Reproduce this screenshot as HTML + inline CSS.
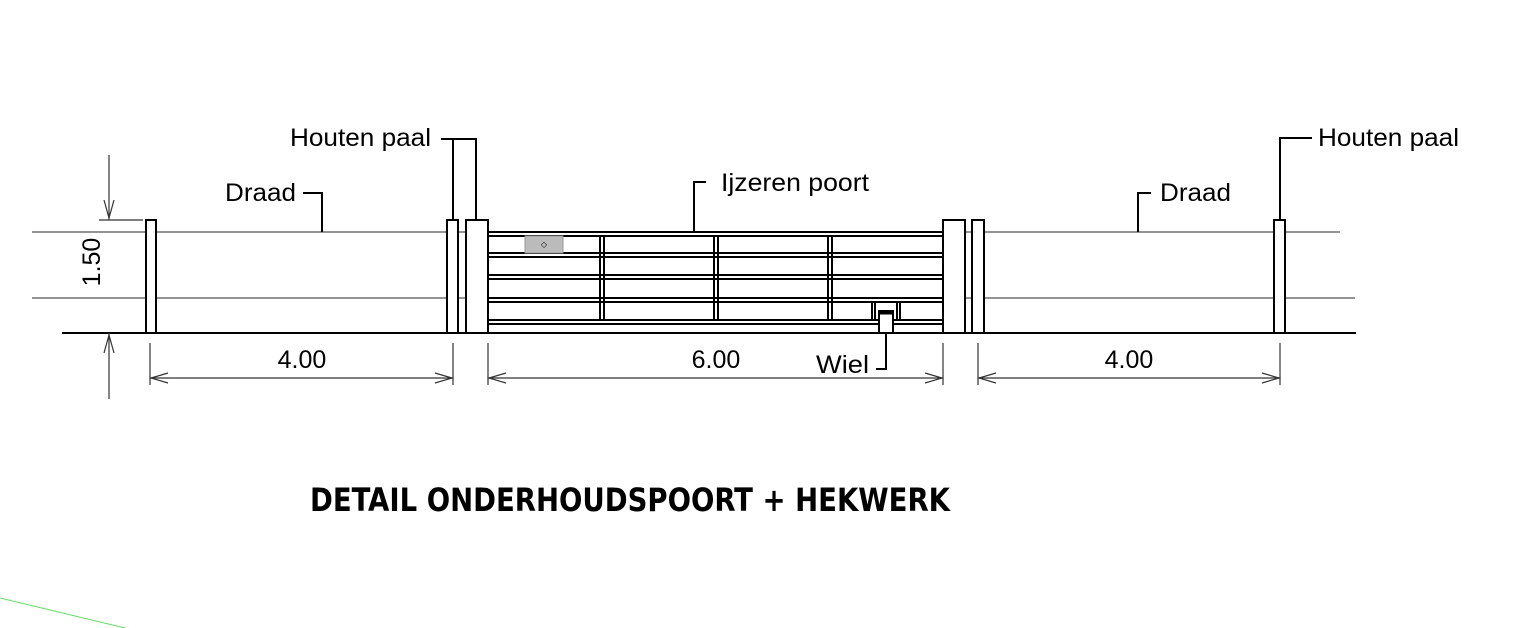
<!DOCTYPE html><html><head><style>body{margin:0;background:#fff}svg{display:block}text{font-family:"Liberation Sans",sans-serif;fill:#000}</style></head><body>
<svg width="1520" height="628" viewBox="0 0 1520 628" xmlns="http://www.w3.org/2000/svg">
<g stroke="#555" stroke-width="1.3" fill="none">
<line x1="32" y1="232" x2="1340" y2="232"/><line x1="32" y1="298" x2="1355" y2="298"/>
</g>
<line x1="62" y1="333" x2="1356" y2="333" stroke="#000" stroke-width="2"/>
<g stroke="#000" stroke-width="2" fill="none">
<line x1="488" y1="232" x2="943" y2="232"/><line x1="488" y1="236" x2="943" y2="236"/>
<line x1="488" y1="253" x2="943" y2="253"/><line x1="488" y1="257" x2="943" y2="257"/>
<line x1="488" y1="275" x2="943" y2="275"/><line x1="488" y1="279" x2="943" y2="279"/>
<line x1="488" y1="298" x2="943" y2="298"/><line x1="488" y1="302" x2="943" y2="302"/>
<line x1="488" y1="320" x2="943" y2="320"/><line x1="488" y1="324" x2="943" y2="324"/>
<line x1="600" y1="236" x2="600" y2="320"/><line x1="604" y1="236" x2="604" y2="320"/>
<line x1="714" y1="236" x2="714" y2="320"/><line x1="718" y1="236" x2="718" y2="320"/>
<line x1="828" y1="236" x2="828" y2="320"/><line x1="832" y1="236" x2="832" y2="320"/>
<line x1="872" y1="302" x2="872" y2="320"/><line x1="875" y1="302" x2="875" y2="320"/>
<line x1="897" y1="302" x2="897" y2="320"/><line x1="900" y1="302" x2="900" y2="320"/>
</g>
<rect x="525" y="236" width="38" height="17" fill="#bbb" stroke="#999"/>
<text x="544" y="247" font-size="8" fill="#666" text-anchor="middle">◇</text>
<rect x="879" y="311" width="14" height="22" fill="#fff" stroke="#000" stroke-width="2"/>
<line x1="879" y1="313" x2="893" y2="313" stroke="#000" stroke-width="3"/>
<g stroke="#000" stroke-width="2" fill="#fff">
<rect x="146" y="220" width="10" height="113"/>
<rect x="447" y="220" width="11" height="113"/>
<rect x="466" y="220" width="22" height="113"/>
<rect x="943" y="220" width="22" height="113"/>
<rect x="972" y="220" width="12" height="113"/>
<rect x="1274" y="220" width="11" height="113"/>
</g>
<g stroke="#000" stroke-width="2" fill="none">
<polyline points="441,139 476,139 476,220"/><line x1="453" y1="139" x2="453" y2="220"/>
<polyline points="303,193 322,193 322,232"/>
<polyline points="706,182 694,182 694,232"/>
<polyline points="1151,193 1138,193 1138,232"/>
<polyline points="1312,138 1280,138 1280,220"/>
<polyline points="876,369 886,369 886,333"/>
</g>
<g stroke="#333" stroke-width="1.2" fill="none">
<line x1="109" y1="155" x2="109" y2="220"/><line x1="99" y1="220" x2="143" y2="220"/>
<polyline points="104,200 109,218 114,200"/>
<line x1="109" y1="333" x2="109" y2="399"/><polyline points="104,353 109,335 114,353"/>
<line x1="150" y1="343" x2="150" y2="385"/><line x1="453" y1="343" x2="453" y2="385"/>
<line x1="488" y1="343" x2="488" y2="385"/><line x1="943" y1="343" x2="943" y2="385"/>
<line x1="978" y1="343" x2="978" y2="385"/><line x1="1280" y1="343" x2="1280" y2="385"/>
<line x1="150" y1="378" x2="453" y2="378"/><line x1="488" y1="378" x2="943" y2="378"/><line x1="978" y1="378" x2="1280" y2="378"/>
<polyline points="168,373 151,378 168,383"/><polyline points="435,373 452,378 435,383"/>
<polyline points="506,373 489,378 506,383"/><polyline points="925,373 942,378 925,383"/>
<polyline points="996,373 979,378 996,383"/><polyline points="1262,373 1279,378 1262,383"/>
</g>
<g font-size="25">
<text x="290" y="146" textLength="141" lengthAdjust="spacingAndGlyphs">Houten paal</text>
<text x="1318" y="146" textLength="141" lengthAdjust="spacingAndGlyphs">Houten paal</text>
<text x="225" y="201" textLength="71" lengthAdjust="spacingAndGlyphs">Draad</text>
<text x="1160" y="201" textLength="71" lengthAdjust="spacingAndGlyphs">Draad</text>
<text x="721" y="191" textLength="148" lengthAdjust="spacingAndGlyphs">Ijzeren poort</text>
<text x="816" y="373" textLength="53" lengthAdjust="spacingAndGlyphs">Wiel</text>
<text x="302" y="368" text-anchor="middle">4.00</text>
<text x="716" y="368" text-anchor="middle">6.00</text>
<text x="1129" y="368" text-anchor="middle">4.00</text>
<text transform="translate(100,262) rotate(-90)" text-anchor="middle">1.50</text>
</g>
<text x="310" y="511" font-size="32" font-weight="bold" style="font-family:'DejaVu Sans Condensed','Liberation Sans',sans-serif" textLength="640" lengthAdjust="spacingAndGlyphs">DETAIL ONDERHOUDSPOORT + HEKWERK</text>
<line x1="0" y1="598" x2="125" y2="628" stroke="#6d6" stroke-width="1"/>
</svg></body></html>
